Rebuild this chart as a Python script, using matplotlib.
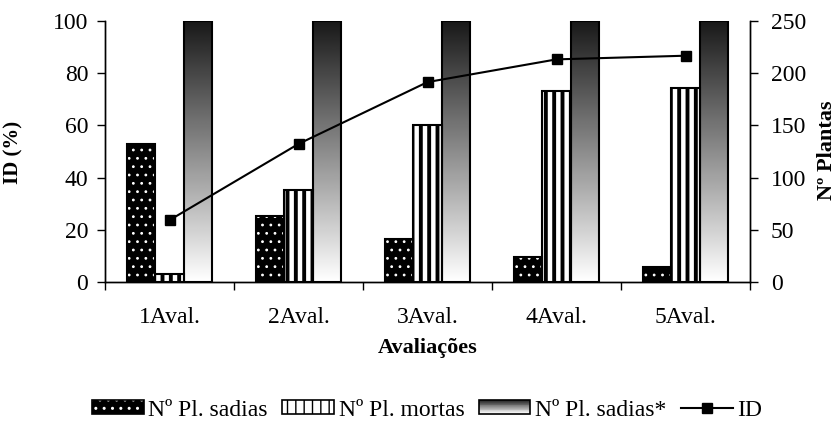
import numpy as np
import matplotlib.pyplot as plt
from matplotlib.patches import Rectangle, Patch
from matplotlib.lines import Line2D
from matplotlib.legend_handler import HandlerBase, HandlerTuple

# Data per evaluation
avaliacoes = ['1Aval.', '2Aval.', '3Aval.', '4Aval.', '5Aval.']
pl_sadias = [132, 63, 41, 24, 14]
pl_mortas = [8, 88, 150, 183, 186]
pl_sadias_ini = [250, 250, 250, 250, 250]
id_pct = [23.7, 52.9, 76.6, 85.3, 86.7]

plt.rcParams['font.family'] = 'Liberation Serif'

fig = plt.figure(figsize=(8.39, 4.24), dpi=100)
ax = fig.add_axes([105 / 839, 1 - 282 / 424, 645 / 839, 261 / 424])
ax2 = ax.twinx()

x = np.arange(len(avaliacoes))
w = 0.222

# healthy plants: black with white dots
with plt.rc_context({'hatch.linewidth': 0.8}):
    ax2.bar(x - w, pl_sadias, w, color='black', edgecolor='white', hatch='..', linewidth=0, zorder=2)
ax2.bar(x - w, pl_sadias, w, fill=False, edgecolor='black', linewidth=1.5, zorder=3)

# dead plants: vertical stripes
with plt.rc_context({'hatch.linewidth': 2.8}):
    ax2.bar(x, pl_mortas, w, color='white', edgecolor='black', hatch='||', linewidth=0, zorder=2)
ax2.bar(x, pl_mortas, w, fill=False, edgecolor='black', linewidth=1.5, zorder=3)

# initial healthy plants: gradient bars
grad = np.linspace(0.1, 1.0, 256)[:, None]
for xi, v in zip(x, pl_sadias_ini):
    ax2.imshow(grad, extent=[xi + w / 2, xi + 1.5 * w, 0, v], aspect='auto',
               cmap='gray', vmin=0, vmax=1, zorder=2)
ax2.bar(x + w, pl_sadias_ini, w, fill=False, edgecolor='black', linewidth=1.5, zorder=3)

# ID line on the left axis, drawn above the bars
ax.plot(x, id_pct, color='black', linewidth=1.5, marker='s', markersize=6.5, zorder=5)
ax.set_zorder(ax2.get_zorder() + 1)
ax.patch.set_visible(False)

ax.set_xlim(-0.5, len(avaliacoes) - 0.5)
ax2.set_xlim(-0.5, len(avaliacoes) - 0.5)
ax.set_ylim(0, 100)
ax2.set_ylim(0, 250)
ax.set_yticks(np.arange(0, 101, 20))
ax2.set_yticks(np.arange(0, 251, 50))
ax.set_xticks(x)
ax.set_xticklabels(avaliacoes)
ax.set_xticks(np.arange(-0.5, len(avaliacoes), 1), minor=True)
ax.tick_params(axis='x', which='major', length=0, pad=18, labelsize=17)
ax.tick_params(axis='x', which='minor', length=6, width=1, direction='out')
ax.tick_params(axis='y', length=6, width=1, direction='out', labelsize=17, pad=6)
ax2.tick_params(axis='y', length=6, width=1, direction='out', labelsize=17, pad=9)

for a in (ax, ax2):
    a.spines['top'].set_visible(False)
    for s in ('left', 'right', 'bottom'):
        a.spines[s].set_linewidth(1)

fig.text(0.004, 1 - 152 / 424, 'ID (%)', rotation=90, ha='left', va='center',
         fontsize=15, fontweight='bold')
fig.text(0.998, 1 - 150 / 424, 'Nº Plantas', rotation=90, ha='right', va='center',
         fontsize=16, fontweight='bold')
ax.set_xlabel('Avaliações', fontsize=16, fontweight='bold')
ax.xaxis.set_label_coords(0.5, (282 - 338) / 261)


class GradientHandler(HandlerBase):
    def create_artists(self, legend, orig_handle, xdescent, ydescent,
                       width, height, fontsize, trans):
        n = 16
        arts = []
        for k in range(n):
            shade = 1.0 - 0.85 * k / (n - 1)
            arts.append(Rectangle((-xdescent, -ydescent + height * k / n), width,
                                  height / n + 0.3, facecolor=str(shade),
                                  edgecolor='none', transform=trans))
        arts.append(Rectangle((-xdescent, -ydescent), width, height, fill=False,
                              edgecolor='black', linewidth=1.2, transform=trans))
        return arts


with plt.rc_context({'hatch.linewidth': 0.8}):
    h_sadias = Patch(facecolor='black', edgecolor='white', hatch='..', linewidth=0)
with plt.rc_context({'hatch.linewidth': 2.5}):
    h_mortas = Patch(facecolor='white', edgecolor='black', hatch='||', linewidth=0)
h_box = Patch(fill=False, edgecolor='black', linewidth=1.2)
h_ini = Patch()
h_id = Line2D([], [], color='black', linewidth=1.5, marker='s', markersize=6.5)

fig.legend([(h_sadias, h_box), (h_mortas, h_box), h_ini, h_id],
           ['Nº Pl. sadias', 'Nº Pl. mortas', 'Nº Pl. sadias*', 'ID'],
           handler_map={tuple: HandlerTuple(ndivide=1, pad=0), h_ini: GradientHandler()},
           loc='center', bbox_to_anchor=(427 / 839, 1 - 410 / 424), ncol=4, frameon=False,
           fontsize=17, handlelength=2.2, handleheight=0.5, handletextpad=0.2,
           columnspacing=0.6, borderpad=0)

fig.savefig('out.png', dpi=100)
